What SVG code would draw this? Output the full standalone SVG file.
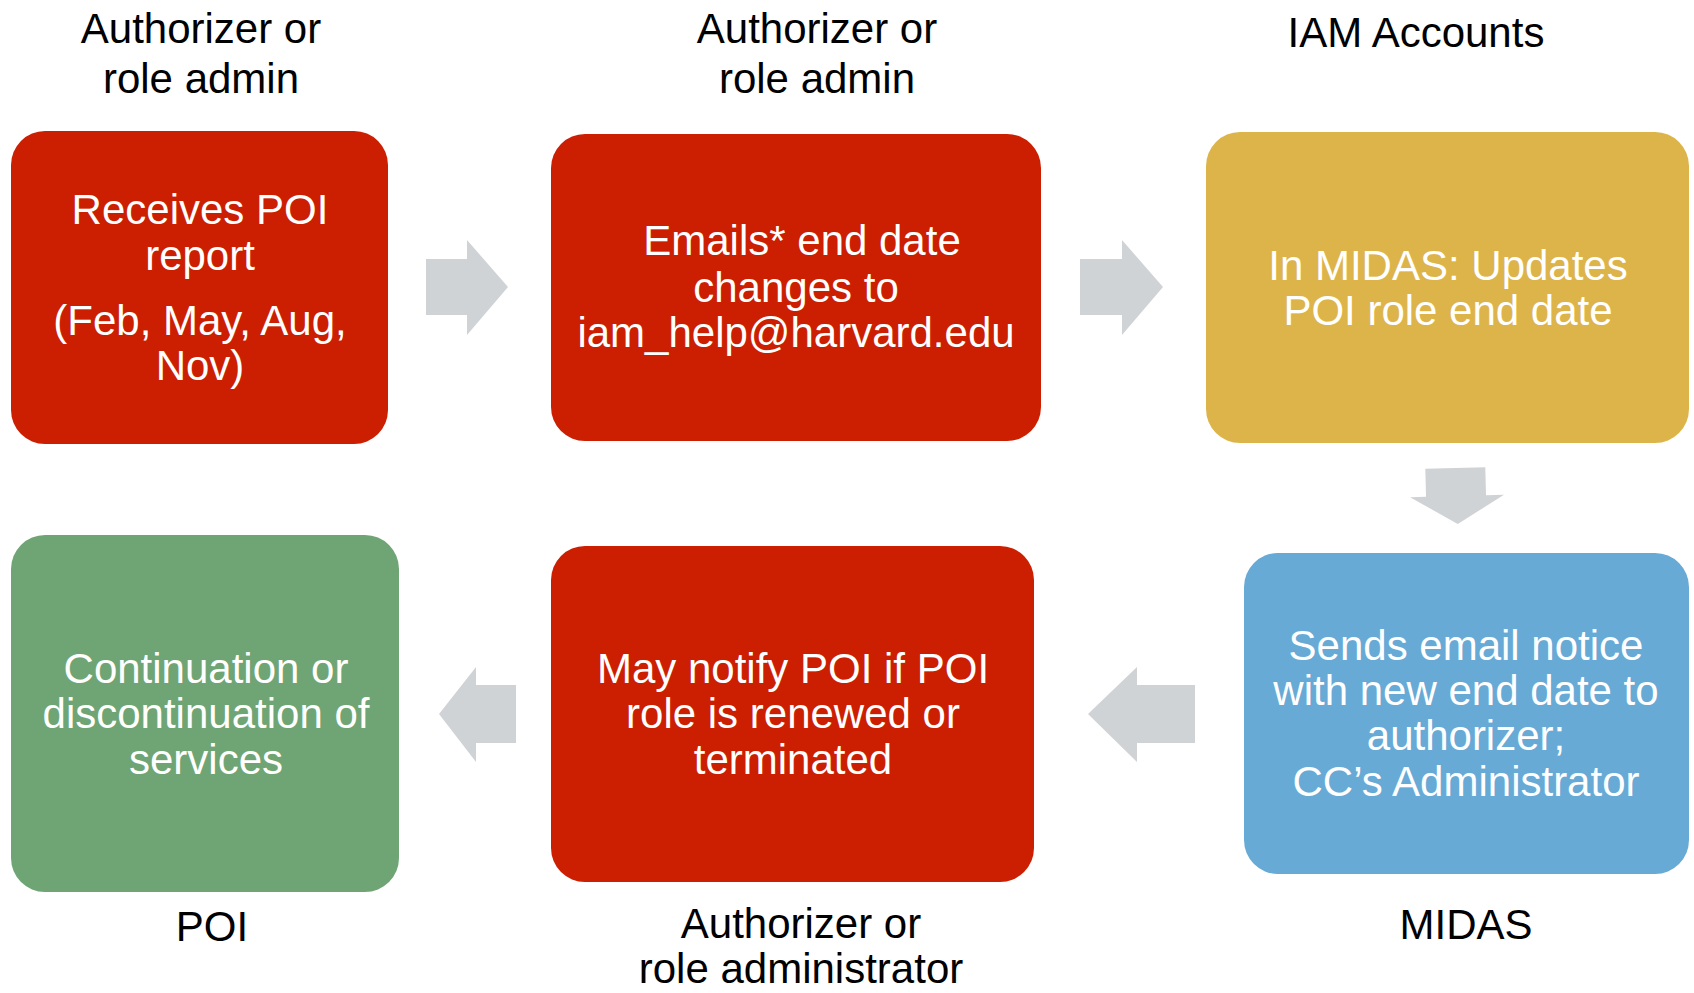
<svg xmlns="http://www.w3.org/2000/svg" width="1694" height="993" viewBox="0 0 1694 993">
<defs>
<style>
.lbl{font-family:"Liberation Sans",Arial,sans-serif;font-size:42px;fill:#000;text-anchor:middle}
.in{font-family:"Liberation Sans",Arial,sans-serif;font-size:42px;fill:#fff;text-anchor:middle}
.red{fill:#CC1E00}
.gold{fill:#DDB449}
.blue{fill:#67AAD6}
.green{fill:#6FA574}
.arr{fill:#D0D3D6}
</style>
</defs>
<rect width="1694" height="993" fill="#fff"/>
<g id="connectors">
<polygon class="arr" points="426,259 467,259 467,240 508,287 467,335 467,315 426,315"/>
<polygon class="arr" points="1080,259 1122,259 1122,240 1163,287 1122,335 1122,315 1080,315"/>
<polygon class="arr" transform="rotate(-1.5 1457 495)" points="1426,468 1486,468 1486,496 1504,496 1457,524 1410,496 1426,496"/>
<polygon class="arr" points="1195,685 1137,685 1137,667 1088,714 1137,762 1137,743 1195,743"/>
<polygon class="arr" points="516,685 476,685 476,667 439,714 476,762 476,743 516,743"/>
</g>
<g id="n1">
<text class="lbl" x="201" y="43">Authorizer or</text>
<text class="lbl" x="201" y="93">role admin</text>
<rect class="red" x="11" y="131" width="377" height="313" rx="34"/>
<text class="in" x="200" y="224">Receives POI</text>
<text class="in" x="200" y="270">report</text>
<text class="in" x="200" y="335">(Feb, May, Aug,</text>
<text class="in" x="200" y="380">Nov)</text>
</g>
<g id="n2">
<text class="lbl" x="817" y="43">Authorizer or</text>
<text class="lbl" x="817" y="93">role admin</text>
<rect class="red" x="551" y="134" width="490" height="307" rx="34"/>
<text class="in" x="802" y="255">Emails* end date</text>
<text class="in" x="796" y="302">changes to</text>
<text class="in" x="796" y="347">iam_help@harvard.edu</text>
</g>
<g id="n3">
<text class="lbl" x="1416" y="47">IAM Accounts</text>
<rect class="gold" x="1206" y="132" width="483" height="311" rx="34"/>
<text class="in" x="1448" y="280">In MIDAS: Updates</text>
<text class="in" x="1448" y="325">POI role end date</text>
</g>
<g id="n4">
<rect class="blue" x="1244" y="553" width="445" height="321" rx="34"/>
<text class="in" x="1466" y="660">Sends email notice</text>
<text class="in" x="1466" y="705">with new end date to</text>
<text class="in" x="1466" y="750">authorizer;</text>
<text class="in" x="1466" y="796">CC’s Administrator</text>
<text class="lbl" x="1466" y="939">MIDAS</text>
</g>
<g id="n5">
<rect class="red" x="551" y="546" width="483" height="336" rx="34"/>
<text class="in" x="793" y="683">May notify POI if POI</text>
<text class="in" x="793" y="728">role is renewed or</text>
<text class="in" x="793" y="774">terminated</text>
<text class="lbl" x="801" y="938">Authorizer or</text>
<text class="lbl" x="801" y="983">role administrator</text>
</g>
<g id="n6">
<rect class="green" x="11" y="535" width="388" height="357" rx="34"/>
<text class="in" x="206" y="683">Continuation or</text>
<text class="in" x="206" y="728">discontinuation of</text>
<text class="in" x="206" y="774">services</text>
<text class="lbl" x="212" y="941">POI</text>
</g>
</svg>
